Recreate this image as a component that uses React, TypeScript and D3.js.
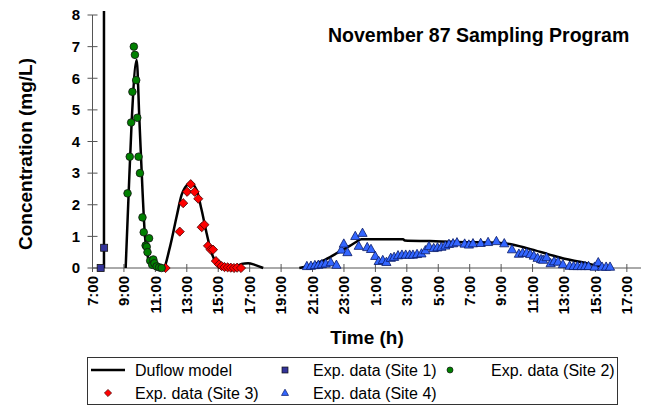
import React from "react";
import * as d3 from "d3";

// ---------- data (time in hours since 0:00 of day 1; conc in mg/L) ----------
const xTickHours = [7, 9, 11, 13, 15, 17, 19, 21, 23, 25, 27, 29, 31, 33, 35, 37, 39, 41];
const xTickLabels = ["7:00", "9:00", "11:00", "13:00", "15:00", "17:00", "19:00", "21:00", "23:00", "1:00", "3:00", "5:00", "7:00", "9:00", "11:00", "13:00", "15:00", "17:00"];
const yTicks = [0, 1, 2, 3, 4, 5, 6, 7, 8];

// Duflow model, three pieces
const modelSpikeTime = [7.73, 7.73];
const modelSpikeConc = [0, 20];
const modelMidTime = [9.11, 9.3, 9.49, 9.81, 9.98, 10.19, 10.34, 10.61, 10.85, 11.16, 11.5, 11.93, 12.35, 12.67, 13.03, 13.24, 13.62, 13.94, 14.26, 14.58, 14.9, 15.32, 15.95, 16.48, 16.9, 17.33, 17.86];
const modelMidConc = [0, 2.36, 4.6, 6.58, 4.73, 2.36, 1.0, 0.2, 0.06, 0.01, 0, 0.67, 1.62, 2.31, 2.63, 2.68, 2.47, 1.84, 1.1, 0.47, 0.15, 0.02, 0.01, 0.13, 0.15, 0.1, 0];
const modelLateTime = [20.16, 20.83, 21.67, 22.52, 23.37, 23.8, 24.11, 25.28, 26.76, 26.87, 28.46, 30.22, 32.8, 33.54, 34.7, 35.98, 37.04, 38.1, 39.16, 39.9];
const modelLateConc = [0, 0.08, 0.23, 0.46, 0.7, 0.83, 0.91, 0.91, 0.91, 0.87, 0.85, 0.82, 0.8, 0.76, 0.62, 0.44, 0.29, 0.19, 0.07, 0];

// Exp. data (Site 1)
const site1Time = [7.52, 7.74];
const site1Conc = [0, 0.64];

// Exp. data (Site 2)
const site2Time = [9.23, 9.37, 9.46, 9.54, 9.63, 9.7, 9.78, 9.85, 9.93, 10.02, 10.18, 10.26, 10.38, 10.45, 10.5, 10.6, 10.67, 10.8, 10.87, 10.94, 11.08, 11.24, 11.4];
const site2Conc = [2.36, 3.52, 4.6, 5.57, 7.0, 6.74, 5.94, 4.75, 3.52, 3.0, 1.6, 1.13, 0.71, 0.67, 0.5, 0.94, 0.23, 0.1, 0.27, 0.15, 0.05, 0.02, 0];

// Exp. data (Site 3)
const site3Time = [11.65, 12.55, 12.77, 13.02, 13.25, 13.5, 13.73, 13.95, 14.12, 14.35, 14.52, 14.67, 14.85, 15.05, 15.22, 15.4, 15.6, 15.8, 16.0, 16.2, 16.45];
const site3Conc = [0, 1.15, 2.05, 2.41, 2.65, 2.41, 2.19, 1.29, 1.37, 0.7, 0.58, 0.58, 0.22, 0.11, 0.06, 0.03, 0.02, 0.01, 0, 0.01, 0];

// Exp. data (Site 4)
const site4Time = [20.64, 20.9, 21.15, 21.37, 21.59, 21.84, 22.16, 22.52, 22.84, 22.99, 23.22, 23.72, 24.18, 23.94, 24.48, 24.72, 24.99, 25.21, 25.47, 25.7, 25.98, 26.19, 26.44, 26.69, 26.93, 27.18, 27.39, 27.65, 27.93, 28.18, 28.41, 28.71, 28.95, 29.2, 29.45, 29.68, 29.94, 30.19, 30.68, 30.95, 31.21, 31.7, 32.17, 32.7, 33.2, 33.69, 34.13, 34.37, 34.62, 34.85, 35.08, 35.32, 35.54, 35.67, 35.89, 36.15, 36.37, 36.62, 36.93, 37.36, 37.61, 37.86, 38.12, 38.34, 38.56, 38.95, 39.18, 39.42, 39.68, 39.93];
const site4Conc = [0.02, 0.03, 0.05, 0.06, 0.08, 0.1, 0.14, 0.06, 0.54, 0.73, 0.46, 0.97, 1.07, 0.66, 0.62, 0.56, 0.34, 0.18, 0.21, 0.15, 0.28, 0.31, 0.36, 0.38, 0.38, 0.38, 0.38, 0.4, 0.42, 0.52, 0.65, 0.59, 0.61, 0.63, 0.67, 0.72, 0.74, 0.77, 0.73, 0.7, 0.74, 0.75, 0.78, 0.81, 0.74, 0.55, 0.41, 0.44, 0.44, 0.4, 0.35, 0.28, 0.24, 0.22, 0.3, 0.11, 0.17, 0.16, 0.08, 0.03, 0.02, 0.02, 0.02, 0.02, 0.02, 0, 0.14, 0, 0, 0];

const legendLabels = ["Duflow model", "Exp. data (Site 1)", "Exp. data (Site 2)", "Exp. data (Site 3)", "Exp. data (Site 4)"];

const FONT = "'Liberation Sans', Arial, Helvetica, sans-serif";

const zip = (t: number[], c: number[]) => t.map((v, i) => [v, c[i]] as [number, number]);

const diamond = (s: number) => `M0,${-s}L${s},0L0,${s}L${-s},0Z`;
const triangle = (s: number) => `M0,${-s * 1.1}L${s},${s * 0.7}L${-s},${s * 0.7}Z`;

export default function App() {
  const W = 645, H = 407;
  const x = d3.scaleLinear().domain([7, 41.9]).range([92.5, 641]);
  const y = d3.scaleLinear().domain([0, 8]).range([268, 15]);

  const lineLin = d3.line<[number, number]>().x(d => x(d[0])).y(d => y(d[1]));
  const lineSmooth = d3.line<[number, number]>().x(d => x(d[0])).y(d => y(d[1])).curve(d3.curveMonotoneX);

  const axisColor = "#555";
  const markerStroke = "#111";

  const legendRow1 = 370, legendRow2 = 393;

  return (
    <svg width={W} height={H} style={{ position: "absolute", left: 0, top: 0, background: "#fff" }} fontFamily={FONT}>
      <defs>
        <clipPath id="plotClip">
          <rect x={85} y={11} width={560} height={262} />
        </clipPath>
      </defs>

      {/* title */}
      <text x={328} y={42} fontSize={19.5} fontWeight="bold" fill="#000">November 87 Sampling Program</text>

      {/* y axis */}
      <line x1={x(7)} x2={x(7)} y1={y(0)} y2={y(8)} stroke={axisColor} strokeWidth={1} />
      {yTicks.map(t => (
        <g key={"yt" + t}>
          <line x1={x(7) - 5} x2={x(7) + 5} y1={y(t)} y2={y(t)} stroke={axisColor} strokeWidth={1} />
          <text x={80} y={y(t)} dy="0.35em" textAnchor="end" fontSize={15} fontWeight="bold">{t}</text>
        </g>
      ))}

      {/* x axis */}
      <line x1={x(7)} x2={x(41.9)} y1={y(0)} y2={y(0)} stroke={axisColor} strokeWidth={1} />
      {xTickHours.map((h, i) => (
        <g key={"xt" + i}>
          <line x1={x(h)} x2={x(h)} y1={y(0) - 4} y2={y(0) + 4} stroke={axisColor} strokeWidth={1} />
          <text transform={`translate(${x(h)},276) rotate(-90)`} dy="0.35em" textAnchor="end" fontSize={15} fontWeight="bold">{xTickLabels[i]}</text>
        </g>
      ))}

      {/* axis titles */}
      <text transform="translate(25,154) rotate(-90)" dy="0.35em" textAnchor="middle" fontSize={19} fontWeight="bold">Concentration (mg/L)</text>
      <text x={367} y={344} textAnchor="middle" fontSize={19} fontWeight="bold">Time (h)</text>

      {/* model */}
      <g clipPath="url(#plotClip)" fill="none" stroke="#000" strokeWidth={2.5} strokeLinejoin="round">
        <path d={lineLin(zip(modelSpikeTime, modelSpikeConc)) || ""} />
        <path d={lineSmooth(zip(modelMidTime, modelMidConc)) || ""} />
        <path d={lineSmooth(zip(modelLateTime, modelLateConc)) || ""} />
      </g>

      {/* site 4 triangles */}
      {zip(site4Time, site4Conc).map((d, i) => (
        <path key={"s4" + i} d={triangle(4.6)} transform={`translate(${x(d[0])},${y(d[1]) - 1})`} fill="#3366FF" stroke="#0a1a66" strokeWidth={0.8} />
      ))}
      {/* site 3 diamonds */}
      {zip(site3Time, site3Conc).map((d, i) => (
        <path key={"s3" + i} d={diamond(4.6)} transform={`translate(${x(d[0])},${y(d[1])})`} fill="#FF0000" stroke="#400" strokeWidth={0.8} />
      ))}
      {/* site 2 circles */}
      {zip(site2Time, site2Conc).map((d, i) => (
        <circle key={"s2" + i} cx={x(d[0])} cy={y(d[1])} r={3.8} fill="#008000" stroke={markerStroke} strokeWidth={0.8} />
      ))}
      {/* site 1 squares */}
      {zip(site1Time, site1Conc).map((d, i) => (
        <rect key={"s1" + i} x={x(d[0]) - 3.5} y={y(d[1]) - 3.5} width={7} height={7} fill="#333399" stroke={markerStroke} strokeWidth={0.8} />
      ))}

      {/* legend */}
      <rect x={87.5} y={357.5} width={530} height={47} fill="#fff" stroke="#333" strokeWidth={1} />
      <line x1={91} x2={125} y1={legendRow1} y2={legendRow1} stroke="#000" strokeWidth={2.5} />
      <text x={135} y={legendRow1} dy="0.35em" fontSize={16}>{legendLabels[0]}</text>
      <rect x={282} y={legendRow1 - 3} width={6} height={6} fill="#333399" stroke={markerStroke} strokeWidth={0.7} />
      <text x={313} y={legendRow1} dy="0.35em" fontSize={16}>{legendLabels[1]}</text>
      <circle cx={450} cy={legendRow1} r={3} fill="#008000" stroke={markerStroke} strokeWidth={0.7} />
      <text x={491} y={legendRow1} dy="0.35em" fontSize={16}>{legendLabels[2]}</text>
      <path d={diamond(3.6)} transform={`translate(108,${legendRow2})`} fill="#FF0000" stroke="#400" strokeWidth={0.7} />
      <text x={135} y={legendRow2} dy="0.35em" fontSize={16}>{legendLabels[3]}</text>
      <path d={triangle(3.5)} transform={`translate(285,${legendRow2})`} fill="#3366FF" stroke="#0a1a66" strokeWidth={0.7} />
      <text x={313} y={legendRow2} dy="0.35em" fontSize={16}>{legendLabels[4]}</text>
    </svg>
  );
}
